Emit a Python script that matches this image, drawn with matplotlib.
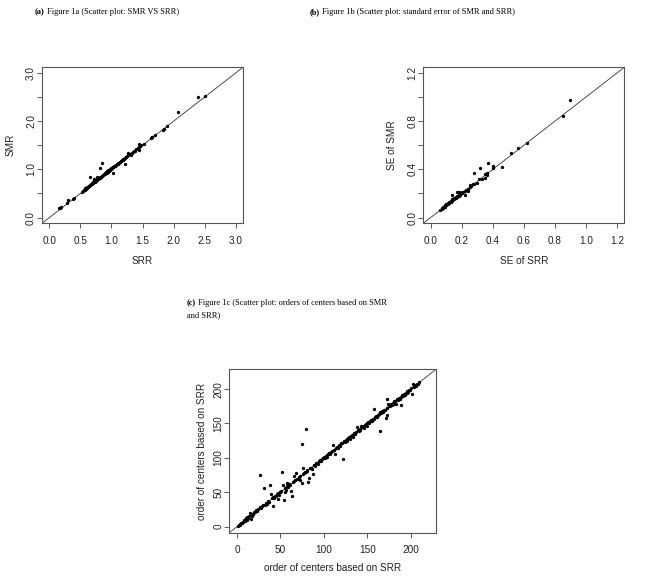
import matplotlib
matplotlib.use("Agg")
import matplotlib.pyplot as plt

# Figure 1a: SRR vs SMR
srr = [0.15, 0.17, 0.18, 0.29, 0.30, 0.38, 0.40,
       0.52, 0.54, 0.56, 0.57, 0.58, 0.59, 0.60, 0.61, 0.62, 0.63, 0.64, 0.65, 0.66, 0.67,
       0.68, 0.69, 0.70, 0.70, 0.71, 0.72, 0.73, 0.74, 0.75, 0.76, 0.77, 0.78, 0.79, 0.80,
       0.81, 0.82, 0.83, 0.84, 0.85, 0.86, 0.87, 0.88, 0.89, 0.90, 0.91, 0.92, 0.93, 0.94,
       0.95, 0.96, 0.97, 0.98, 0.99, 1.00, 1.01, 1.02, 1.03, 1.04, 1.05, 1.06, 1.07, 1.08,
       1.09, 1.10, 1.11, 1.12, 1.13, 1.14, 1.15, 1.16, 1.17, 1.18, 1.19, 1.20, 1.22, 1.23,
       1.24, 1.25, 1.26, 1.27, 1.28, 1.30, 1.31, 1.33, 1.35, 1.36, 1.38, 1.40, 1.42, 1.44,
       1.45, 1.46, 1.48, 1.52,
       0.65, 0.76, 0.82, 0.84, 0.72, 1.02, 1.22, 1.45, 1.63, 1.65, 1.66, 1.70, 1.83, 1.84,
       1.89, 2.08, 2.40, 2.50]
smr = [0.19, 0.20, 0.21, 0.30, 0.36, 0.39, 0.41,
       0.53, 0.56, 0.58, 0.58, 0.61, 0.60, 0.63, 0.62, 0.64, 0.66, 0.65, 0.68, 0.67, 0.70,
       0.69, 0.72, 0.71, 0.74, 0.73, 0.76, 0.74, 0.78, 0.76, 0.79, 0.78, 0.82, 0.80, 0.83,
       0.82, 0.85, 0.84, 0.87, 0.86, 0.89, 0.88, 0.91, 0.92, 0.91, 0.94, 0.93, 0.96, 0.95,
       0.98, 0.97, 0.99, 1.01, 1.00, 1.03, 1.02, 1.05, 1.04, 1.07, 1.06, 1.08, 1.10, 1.09,
       1.12, 1.11, 1.14, 1.13, 1.15, 1.16, 1.18, 1.17, 1.20, 1.19, 1.22, 1.21, 1.24, 1.26,
       1.25, 1.28, 1.33, 1.30, 1.32, 1.31, 1.29, 1.35, 1.36, 1.39, 1.38, 1.42, 1.44, 1.46,
       1.52, 1.49, 1.50, 1.53,
       0.84, 0.85, 1.03, 1.13, 0.80, 0.93, 1.12, 1.40, 1.65, 1.67, 1.68, 1.71, 1.81, 1.84,
       1.90, 2.20, 2.51, 2.53]

# Figure 1b: standard errors
se_srr = [0.06, 0.07, 0.07, 0.08, 0.08, 0.09, 0.09, 0.10, 0.10, 0.11, 0.11, 0.12, 0.12,
          0.13, 0.13, 0.14, 0.14, 0.15, 0.15, 0.16, 0.16, 0.17, 0.17, 0.18, 0.18, 0.19,
          0.19, 0.20, 0.20, 0.21, 0.22, 0.23, 0.24, 0.25, 0.25, 0.26, 0.27, 0.28, 0.30,
          0.31, 0.33, 0.35, 0.36, 0.36,
          0.14, 0.17, 0.18, 0.22, 0.24, 0.28, 0.32, 0.37, 0.35, 0.40, 0.40, 0.46, 0.52,
          0.56, 0.62, 0.85, 0.90]
se_smr = [0.06, 0.07, 0.08, 0.08, 0.09, 0.09, 0.10, 0.10, 0.11, 0.11, 0.12, 0.12, 0.13,
          0.13, 0.14, 0.14, 0.15, 0.15, 0.16, 0.16, 0.17, 0.17, 0.18, 0.18, 0.19, 0.19,
          0.20, 0.20, 0.21, 0.21, 0.22, 0.23, 0.24, 0.25, 0.27, 0.26, 0.28, 0.28, 0.29,
          0.32, 0.32, 0.33, 0.35, 0.37,
          0.19, 0.21, 0.21, 0.19, 0.22, 0.37, 0.41, 0.45, 0.36, 0.43, 0.41, 0.42, 0.54,
          0.58, 0.62, 0.84, 0.98]

# Figure 1c: order of centers
order_srr = [1, 2, 3, 4, 5, 6, 7, 8, 9, 10, 11, 12, 13, 14, 17, 18, 19, 20, 21, 22, 23, 24,
             27, 28, 29, 30, 32, 33, 34, 35, 36, 37, 40, 42, 43, 44, 45, 46, 47, 48, 49, 50,
             51, 55, 56, 58, 59, 60, 61, 64, 65, 67, 69, 70, 71, 72, 76, 77, 78, 80, 81, 84,
             85, 86, 88, 89, 90, 91, 92, 93, 94, 95, 96, 97, 98, 99, 100, 101, 102, 103, 104,
             105, 106, 107, 108, 109, 111, 112, 114, 115, 116, 117, 118, 119, 120, 121, 123,
             124, 125, 126, 127, 128, 129, 130, 131, 132, 133, 134, 135, 136, 137, 139, 140,
             141, 142, 144, 145, 146, 147, 148, 149, 151, 152, 153, 154, 155, 156, 157, 159,
             160, 161, 162, 163, 165, 166, 167, 168, 169, 170, 172, 175, 176, 177, 178, 179,
             180, 182, 184, 185, 186, 187, 188, 190, 191, 192, 193, 194, 195, 196, 197, 198,
             199, 200, 203, 204, 205, 206, 207, 208, 209,
             15, 16, 26, 31, 38, 39, 41, 47, 52, 53, 54, 57, 55, 62, 63, 66, 68, 73, 75, 75,
             79, 76, 82, 83, 87, 79, 110, 113, 122, 138, 143, 150, 158, 164, 171, 172, 173,
             174, 181, 183, 189, 201, 202]
order_smr = [1, 3, 2, 4, 6, 5, 7, 9, 8, 12, 10, 14, 13, 15, 16, 19, 18, 21, 22, 24, 23, 26,
             28, 27, 30, 32, 31, 34, 35, 33, 37, 36, 41, 43, 42, 45, 44, 47, 49, 46, 50, 51,
             52, 56, 54, 59, 58, 62, 60, 65, 66, 68, 70, 69, 72, 73, 77, 78, 79, 81, 82, 85,
             86, 84, 89, 90, 88, 92, 93, 91, 95, 96, 97, 95, 99, 100, 101, 100, 103, 104, 102,
             106, 107, 105, 109, 110, 112, 111, 115, 116, 114, 118, 119, 117, 121, 122, 124,
             123, 126, 127, 125, 129, 130, 128, 132, 133, 131, 135, 136, 134, 138, 140, 139,
             142, 141, 145, 146, 144, 148, 149, 147, 152, 150, 154, 155, 153, 157, 156, 160,
             161, 159, 163, 164, 166, 165, 168, 167, 170, 169, 173, 176, 175, 178, 177, 180,
             179, 183, 185, 184, 187, 186, 189, 191, 190, 193, 192, 195, 194, 197, 196, 199,
             198, 201, 204, 203, 206, 205, 208, 207, 210,
             20, 11, 75, 56, 60, 47, 30, 40, 80, 60, 39, 63, 51, 52, 45, 73, 78, 68, 64, 120,
             142, 85, 65, 71, 76, 80, 118, 106, 99, 145, 147, 151, 171, 139, 158, 163, 186,
             178, 183, 178, 177, 193, 207]

plt.rcParams['font.family'] = ['Liberation Sans', 'DejaVu Sans']
fig = plt.figure(figsize=(6.5, 5.78), dpi=100)
W, H = 650.0, 578.0


def make_axes(left, top, width, height, lim, ticks, labels, xlab, ylab, xlab_off, ylab_off):
    ax = fig.add_axes([left / W, 1 - (top + height) / H, width / W, height / H])
    ax.set_xlim(lim)
    ax.set_ylim(lim)
    ax.set_xticks(ticks)
    ax.set_xticklabels(labels)
    ax.set_yticks(ticks)
    ax.set_yticklabels(labels, rotation=90, va='center')
    ax.tick_params(axis='both', length=3.3, width=0.6, color='#444444', labelsize=7.2, labelcolor='#222222')
    ax.tick_params(axis='x', pad=5.5)
    ax.tick_params(axis='y', pad=1.0)
    for s in ax.spines.values():
        s.set_color('#555555')
        s.set_linewidth(0.8)
    ax.set_xlabel(xlab, fontsize=7.2, color='#222222', va='center')
    ax.set_ylabel(ylab, fontsize=7.2, color='#222222', va='center', ha='center')
    ax.xaxis.set_label_coords(0.5, -xlab_off / height)
    ax.yaxis.set_label_coords(-ylab_off / width, 0.5)
    # identity line
    ax.plot(lim, lim, color='#333333', linewidth=0.6)
    return ax


ax1 = make_axes(42, 67.3, 201, 156, (-0.12, 3.12),
                [0, 0.5, 1.0, 1.5, 2.0, 2.5, 3.0],
                ['0.0', '0.5', '1.0', '1.5', '2.0', '2.5', '3.0'],
                'SRR', 'SMR', 38, 31.5)
ax1.set_yticklabels(['0.0', '', '1.0', '', '2.0', '', '3.0'], rotation=90, va='center')
ax1.plot(srr, smr, 'o', color='black', markersize=2.4, markeredgewidth=0)

ax2 = make_axes(423.3, 67.3, 201, 156, (-0.048, 1.248),
                [0, 0.2, 0.4, 0.6, 0.8, 1.0, 1.2],
                ['0.0', '0.2', '0.4', '0.6', '0.8', '1.0', '1.2'],
                'SE of SRR', 'SE of SMR', 38, 31.5)
ax2.set_yticklabels(['0.0', '', '0.4', '', '0.8', '', '1.2'], rotation=90, va='center')
ax2.plot(se_srr, se_smr, 'o', color='black', markersize=2.4, markeredgewidth=0)

ax3 = make_axes(229.3, 369.3, 206.7, 163.4, (-8.8, 228.8),
                [0, 50, 100, 150, 200], ['0', '50', '100', '150', '200'],
                'order of centers based on SRR', 'order of centers based on SRR', 35.5, 27)
ax3.plot(order_srr, order_smr, 'o', color='black', markersize=2.4, markeredgewidth=0)

# captions: bold panel letter followed by regular text
serif = ['Liberation Serif', 'DejaVu Serif']


def caption(x, y, letter, rest):
    t = fig.text(x / W, 1 - y / H, letter, family=serif, fontsize=6, fontweight='bold',
                 va='center', ha='left')
    plt.annotate(rest, xy=(1, 0.5), xycoords=t, va='center', ha='left',
                 family=serif, fontsize=6, annotation_clip=False)


caption(35, 12, '(a)', ' Figure 1a (Scatter plot: SMR VS SRR)')
caption(310, 12, '(b)', ' Figure 1b (Scatter plot: standard error of SMR and SRR)')
caption(187, 302.7, '(c)', ' Figure 1c (Scatter plot: orders of centers based on SMR')
fig.text(187 / W, 1 - 315 / H, 'and SRR)', family=serif, fontsize=6, va='center', ha='left')

fig.savefig('out.png', dpi=100)
